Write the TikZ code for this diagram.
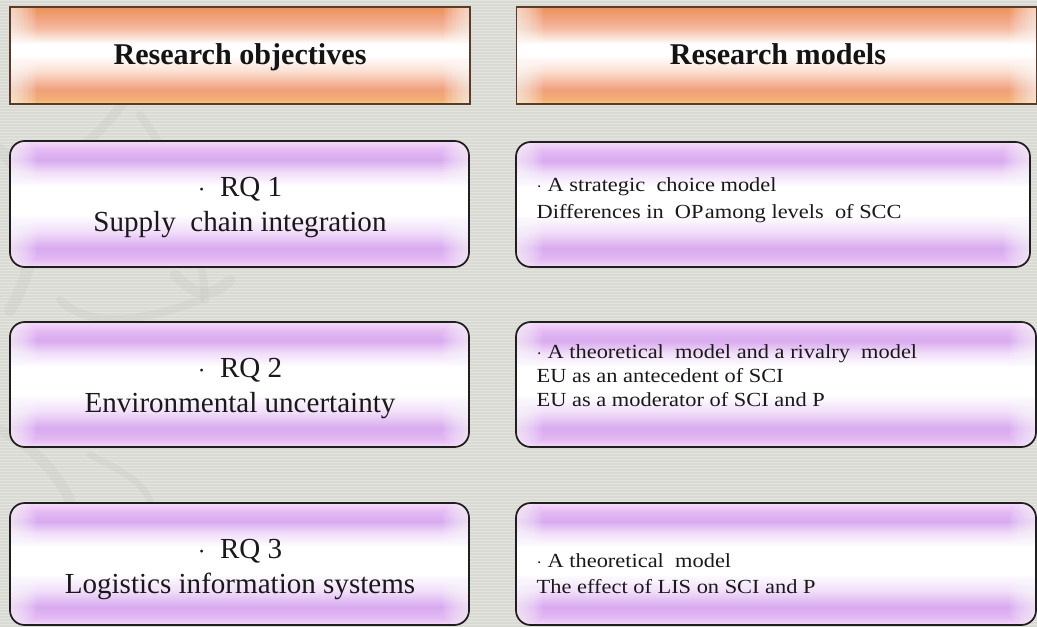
\documentclass[tikz,border=0pt]{standalone}
\usepackage{fontspec}
\setmainfont{Liberation Serif}
\newfontfamily\widefont[FakeStretch=1.12]{Liberation Serif}

% palette
\definecolor{bgA}{HTML}{D9DAD4}
\definecolor{bgB}{HTML}{E5E5E0}
\definecolor{swirl}{HTML}{BDBDB7}
\definecolor{lilEdge}{HTML}{F4DCF8}
\definecolor{lilB}{HTML}{E4BAF3}
\definecolor{lilC}{HTML}{D8AAEF}
\definecolor{lilD}{HTML}{F1DEF9}
\definecolor{orEdge}{HTML}{F9CC7A}
\definecolor{orB}{HTML}{F3AE74}
\definecolor{orC}{HTML}{F0A07C}
\definecolor{orD}{HTML}{FBE2D6}
\definecolor{orTop}{HTML}{EC9256}
\definecolor{orFrame}{HTML}{5A3A28}

% glossy bands (the middle 25bp..75bp spans the filled shape, bottom to top)
\pgfdeclareverticalshading{lilacgloss}{100bp}{%
  color(0bp)=(lilEdge); color(25bp)=(lilEdge); color(28bp)=(lilB);
  color(32.5bp)=(lilC); color(39bp)=(lilD); color(46bp)=(white);
  color(57bp)=(white); color(62.5bp)=(lilD); color(67.5bp)=(lilC);
  color(71.5bp)=(lilB); color(75bp)=(lilEdge); color(100bp)=(lilEdge)}
\pgfdeclareverticalshading{orangegloss}{100bp}{%
  color(0bp)=(orEdge); color(25bp)=(orEdge); color(27.5bp)=(orB);
  color(32.5bp)=(orC); color(42.5bp)=(orD); color(50bp)=(white);
  color(56bp)=(white); color(64bp)=(orD!40!orC); color(70bp)=(orC);
  color(75bp)=(orTop); color(100bp)=(orTop)}

\tikzset{
  % soft white sheen along the left and right inner edges
  sideglow/.style={path picture={
    \foreach \i in {1,...,11} {
      \fill[white, opacity=0.085]
        (path picture bounding box.north west) rectangle
        ([xshift=\i*1.8pt]path picture bounding box.south west);
      \fill[white, opacity=0.085]
        ([xshift=-\i*1.8pt]path picture bounding box.north east) rectangle
        (path picture bounding box.south east);
    }}},
  headbox/.style={rectangle, draw=orFrame, line width=1.2pt,
    shading=orangegloss, sideglow, minimum height=72.75pt, inner sep=0pt},
  rqbox/.style={rectangle, rounded corners=11pt, draw=black!88, line width=1.3pt,
    shading=lilacgloss, sideglow, inner sep=0pt},
  headtext/.style={font=\fontsize{22.6}{26}\selectfont\bfseries, text=black!92,
    anchor=base},
  rqtext/.style={font=\fontsize{21.8}{25}\selectfont, text=black!90, anchor=base},
  modeltext/.style={font=\widefont\fontsize{15}{17}\selectfont, text=black!90,
    anchor=base west},
  swirlstroke/.style={draw=swirl, opacity=0.2, line cap=round},
}

\begin{document}
\begin{tikzpicture}[x=0.75pt, y=-0.75pt]
\useasboundingbox (0,0) rectangle (1037,627);

% striped grey backdrop
\fill[bgA] (0,0) rectangle (1037,627);
\foreach \k in {0,...,208} {
  \fill[bgB] (0,3*\k) rectangle (1037,3*\k+1.4);
}

% faint ornamental swirl on the left
\draw[swirlstroke, line width=7pt] (125,100) .. controls (90,150) and (40,170) .. (15,240);
\draw[swirlstroke, line width=9pt] (0,150) .. controls (45,190) and (40,260) .. (10,310);
\draw[swirlstroke, line width=6pt] (140,115) .. controls (180,170) and (200,220) .. (205,300);
\draw[swirlstroke, line width=8pt] (175,275) .. controls (195,295) and (210,300) .. (230,280);
\draw[swirlstroke, line width=6pt] (60,300) .. controls (90,330) and (150,320) .. (200,300);
\draw[swirlstroke, line width=8pt] (0,430) .. controls (40,450) and (60,480) .. (70,500);
\draw[swirlstroke, line width=5pt] (90,455) .. controls (120,470) and (140,480) .. (150,500);

% column headers
\node[headbox, minimum width=345pt] (hobj) at (240,55.5) {};
\node[headtext] (hobjtxt) at (240,65) {Research objectives};
\node[headbox, minimum width=390pt] (hmod) at (776.5,55.5) {};
\node[headtext] (hmodtxt) at (778,65) {Research models};

% research question boxes
\node[rqbox, minimum width=344.25pt, minimum height=94.5pt] (rq1) at (239.5,204) {};
\node[rqbox, minimum width=344.25pt, minimum height=93.75pt] (rq2) at (239.5,384.5) {};
\node[rqbox, minimum width=344.25pt, minimum height=91.5pt] (rq3) at (239.5,564) {};

\node[rqtext] (rq1a) at (240,196) {$\cdot$\ \ RQ 1};
\node[rqtext] (rq1b) at (240,231) {Supply\ \ chain integration};
\node[rqtext] (rq2a) at (240,377) {$\cdot$\ \ RQ 2};
\node[rqtext] (rq2b) at (240,412) {Environmental uncertainty};
\node[rqtext] (rq3a) at (240,558) {$\cdot$\ \ RQ 3};
\node[rqtext] (rq3b) at (240,593) {Logistics information systems};

% model boxes
\node[rqbox, minimum width=385.5pt, minimum height=93.75pt] (md1) at (773,204.5) {};
\node[rqbox, minimum width=390pt, minimum height=93.75pt] (md2) at (776,384.5) {};
\node[rqbox, minimum width=390pt, minimum height=91.5pt] (md3) at (776,564) {};

\node[modeltext] (md1a) at (532,192) {$\cdot$ A strategic\ \ choice model};
\node[modeltext] (md1b) at (532,219) {Differences in\ \ OP\kern1pt among levels\ \ of SCC};
\node[modeltext] (md2a) at (532,358) {$\cdot$ A theoretical\ \ model and a rivalry\ \ model};
\node[modeltext] (md2b) at (532,382) {EU as an antecedent of SCI};
\node[modeltext] (md2c) at (532,406) {EU as a moderator of SCI and P};
\node[modeltext] (md3a) at (532,567) {$\cdot$ A theoretical\ \ model};
\node[modeltext] (md3b) at (532,593) {The effect of LIS on SCI and P};
\end{tikzpicture}
\end{document}
